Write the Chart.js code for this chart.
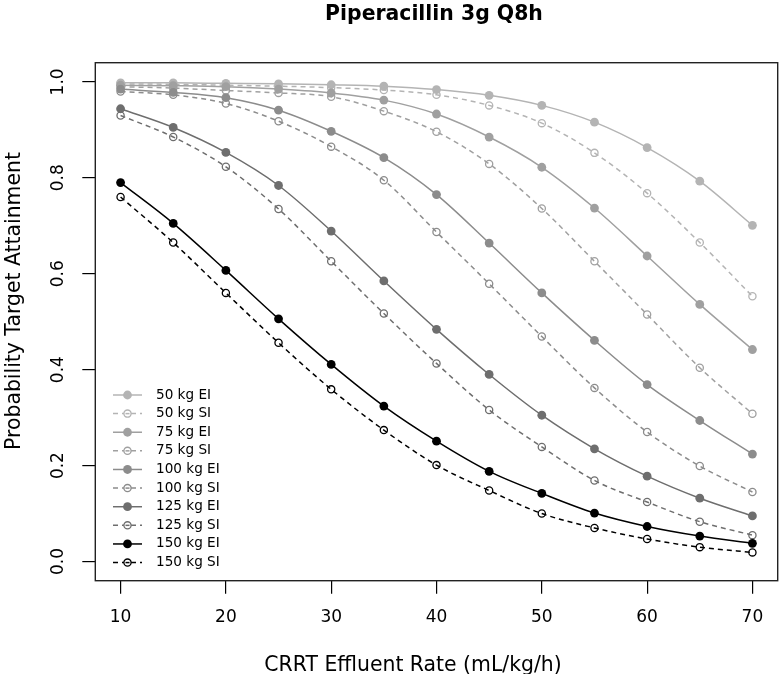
<!DOCTYPE html>
<html>
<head>
<meta charset="utf-8">
<script src="https://cdn.jsdelivr.net/npm/chart.js@4.4.0/dist/chart.umd.min.js"></script>
<style>
html,body{margin:0;padding:0;background:#fff;}
#wrap{width:783px;height:674px;position:relative;}
</style>
</head>
<body>
<div id="wrap"><canvas id="c" width="783" height="674"></canvas></div>
<script>
// ---- data ----
const effluentRate = [10, 15, 20, 25, 30, 35, 40, 45, 50, 55, 60, 65, 70];
const xTicks = [10, 20, 30, 40, 50, 60, 70];
const yTicks = [0.0, 0.2, 0.4, 0.6, 0.8, 1.0];
const seriesLabels = ['50 kg EI','50 kg SI','75 kg EI','75 kg SI','100 kg EI','100 kg SI','125 kg EI','125 kg SI','150 kg EI','150 kg SI'];
const ei50  = [0.998,0.998,0.997,0.996,0.994,0.991,0.984,0.972,0.951,0.916,0.863,0.793,0.701];
const si50  = [0.996,0.995,0.993,0.991,0.988,0.983,0.973,0.951,0.914,0.852,0.768,0.665,0.553];
const ei75  = [0.993,0.992,0.990,0.985,0.977,0.962,0.933,0.885,0.822,0.737,0.637,0.536,0.442];
const si75  = [0.990,0.987,0.982,0.977,0.969,0.939,0.896,0.829,0.736,0.626,0.515,0.404,0.308];
const ei100 = [0.985,0.978,0.967,0.941,0.897,0.842,0.765,0.664,0.560,0.461,0.369,0.294,0.224];
const si100 = [0.980,0.973,0.955,0.918,0.865,0.795,0.687,0.579,0.469,0.362,0.270,0.199,0.145];
const ei125 = [0.944,0.905,0.853,0.784,0.689,0.585,0.484,0.390,0.305,0.235,0.178,0.132,0.095];
const si125 = [0.930,0.885,0.823,0.735,0.626,0.517,0.413,0.316,0.239,0.169,0.124,0.083,0.055];
const ei150 = [0.790,0.705,0.607,0.506,0.411,0.324,0.251,0.188,0.142,0.101,0.073,0.053,0.038];
const si150 = [0.760,0.665,0.560,0.456,0.359,0.274,0.201,0.148,0.100,0.070,0.047,0.030,0.019];
const seriesValues = [ei50, si50, ei75, si75, ei100, si100, ei125, si125, ei150, si150];
const seriesColors = ['#b4b4b4','#b4b4b4','#a0a0a0','#a0a0a0','#8c8c8c','#8c8c8c','#6e6e6e','#6e6e6e','#000000','#000000'];

const FONT = 'DejaVu Sans';

const datasets = seriesValues.map((vals, i) => {
  const isSI = i % 2 === 1;
  const col = seriesColors[i];
  return {
    label: seriesLabels[i],
    data: vals.map((v, j) => ({x: effluentRate[j], y: v})),
    borderColor: col,
    backgroundColor: isSI ? 'rgba(0,0,0,0)' : col,
    pointBackgroundColor: isSI ? 'rgba(0,0,0,0)' : col,
    pointBorderColor: col,
    pointRadius: isSI ? 3.6 : 4.4,
    pointBorderWidth: isSI ? 1.3 : 0,
    pointHoverRadius: 4,
    borderWidth: 1.5,
    borderDash: isSI ? [5, 4] : [],
    cubicInterpolationMode: 'monotone',
    fill: false,
    order: seriesValues.length - i
  };
});

const decor = {
  id: 'decor',
  afterDatasetsDraw(chart) {
    const {ctx, chartArea: a} = chart;
    ctx.save();
    // frame
    ctx.strokeStyle = '#222';
    ctx.lineWidth = 1.4;
    ctx.strokeRect(a.left, a.top, a.right - a.left, a.bottom - a.top);
    // legend
    const x0 = 113, x1 = 142, xm = 127.5, tx = 156;
    chart.data.datasets.forEach((ds, i) => {
      const y = 395 + i * 18.62;
      ctx.strokeStyle = ds.borderColor;
      ctx.lineWidth = ds.borderWidth;
      ctx.setLineDash(ds.borderDash);
      ctx.beginPath(); ctx.moveTo(x0, y); ctx.lineTo(x1, y); ctx.stroke();
      ctx.setLineDash([]);
      ctx.beginPath(); ctx.arc(xm, y, ds.pointRadius, 0, Math.PI * 2);
      if (ds.pointBorderWidth > 0) {
        ctx.lineWidth = ds.pointBorderWidth; ctx.strokeStyle = ds.pointBorderColor;
        ctx.fillStyle = '#fff'; ctx.fill(); ctx.stroke();
        ctx.beginPath(); ctx.moveTo(xm - 2, y); ctx.lineTo(xm + 2, y);
        ctx.lineWidth = ds.borderWidth; ctx.stroke();
      } else {
        ctx.fillStyle = ds.pointBackgroundColor; ctx.fill();
      }
      ctx.fillStyle = '#000';
      ctx.font = '13.6px "' + FONT + '"';
      ctx.textAlign = 'left'; ctx.textBaseline = 'middle';
      ctx.fillText(ds.label, tx, y);
    });
    ctx.restore();
  },
  afterDraw(chart) {
    const {ctx} = chart;
    ctx.save();
    ctx.fillStyle = '#000';
    ctx.textAlign = 'center';
    ctx.textBaseline = 'alphabetic';
    ctx.font = 'bold 20.4px "' + FONT + '"';
    ctx.fillText('Piperacillin 3g Q8h', 434, 19.5);
    ctx.font = '20.4px "' + FONT + '"';
    ctx.fillText('CRRT Effluent Rate (mL/kg/h)', 413, 670.5);
    ctx.translate(19.5, 301);
    ctx.rotate(-Math.PI / 2);
    ctx.fillText('Probability Target Attainment', 0, 0);
    ctx.restore();
  }
};

new Chart(document.getElementById('c'), {
  type: 'line',
  data: {datasets},
  options: {
    responsive: false,
    animation: false,
    devicePixelRatio: 1,
    layout: {padding: {top: 62.7, right: 0.5, bottom: 0, left: 0}},
    plugins: {legend: {display: false}, tooltip: {enabled: false}, title: {display: false}},
    scales: {
      x: {
        type: 'linear',
        min: 7.6, max: 72.4,
        afterBuildTicks: s => { s.ticks = xTicks.map(v => ({value: v})); },
        afterFit: s => { s.height = 93.3; },
        grid: {display: true, drawOnChartArea: false, drawTicks: true, tickLength: 13, color: '#000', lineWidth: 1.2},
        border: {display: false},
        ticks: {font: {family: FONT, size: 17}, color: '#000', padding: 14, maxRotation: 0, minRotation: 0}
      },
      y: {
        type: 'linear',
        min: -0.04, max: 1.04,
        afterBuildTicks: s => { s.ticks = yTicks.map(v => ({value: v})); },
        afterFit: s => { s.width = 95.3; },
        grid: {display: true, drawOnChartArea: false, drawTicks: true, tickLength: 13, color: '#000', lineWidth: 1.2},
        border: {display: false},
        ticks: {font: {family: FONT, size: 17}, color: '#000', padding: 10, crossAlign: 'center', minRotation: 90, maxRotation: 90,
                callback: v => v.toFixed(1)}
      }
    }
  },
  plugins: [decor]
});
</script>
</body>
</html>
